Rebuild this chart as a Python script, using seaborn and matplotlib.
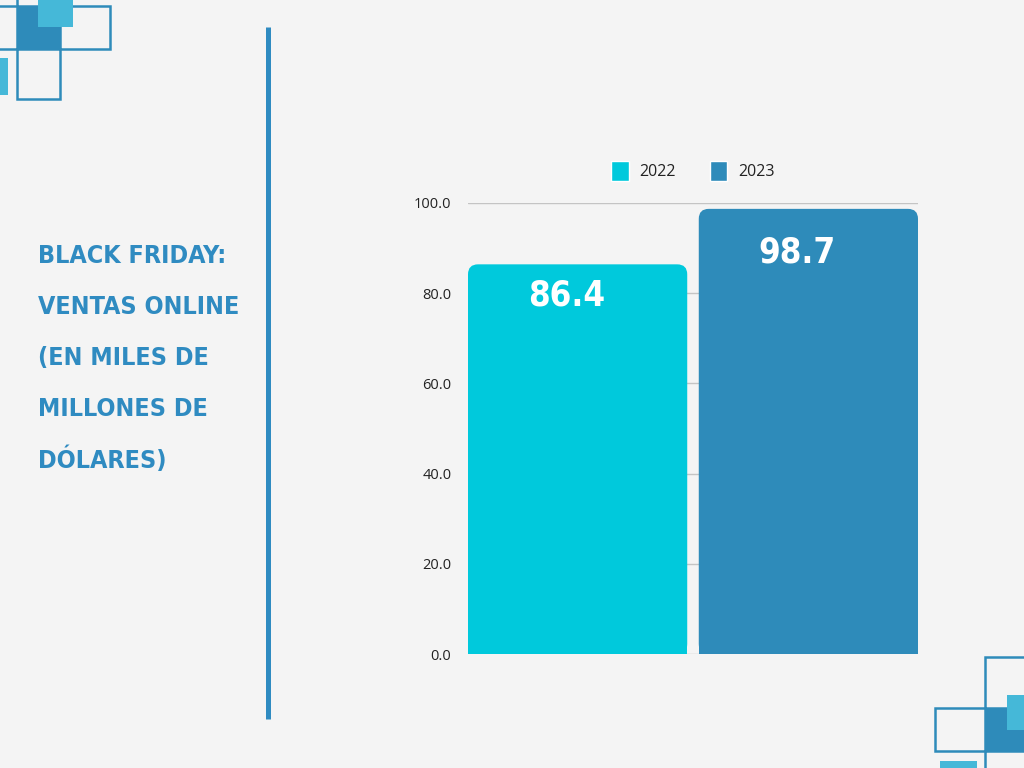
import matplotlib
matplotlib.use("Agg")
import matplotlib.pyplot as plt
from matplotlib.patches import Rectangle, FancyBboxPatch
from matplotlib.lines import Line2D
import pandas as pd
import seaborn as sns

# data
years = ["2022", "2023"]
sales = [86.4, 98.7]
category = ["Black Friday", "Black Friday"]
title_lines = ["BLACK FRIDAY:", "VENTAS ONLINE", "(EN MILES DE", "MILLONES DE", "DÓLARES)"]

BG = "#f4f4f4"
CYAN = "#00c9dc"
BLUE = "#2e8bba"
TITLE_BLUE = "#2f8bc1"
LIGHT = "#45b8d8"
W, H = 1024, 768

df = pd.DataFrame({"cat": category, "year": years, "sales": sales})

sns.set_theme(style="white")
plt.rcParams["font.family"] = ["Open Sans", "DejaVu Sans"]

fig = plt.figure(figsize=(W / 100, H / 100), dpi=100, facecolor=BG)


def fx(px):
    return px / W


def fy(py):
    return 1 - py / H


def box(x0, y0, x1, y1, filled=False, color=BLUE):
    # rectangle given in pixel coords (top-left origin)
    r = Rectangle((fx(x0), fy(y1)), fx(x1) - fx(x0), fy(y0) - fy(y1),
                  transform=fig.transFigure, clip_on=False,
                  facecolor=color if filled else "none",
                  edgecolor="none" if filled else BLUE, linewidth=1.8)
    fig.add_artist(r)


# corner decorations, top-left
box(17, 49, 60, 99)
box(60, 6, 110, 49)
box(17, -20, 60, 6)
box(-20, 6, 17, 49)
box(17, 6, 60, 49, filled=True, color=BLUE)
box(38, 0, 73, 27, filled=True, color=LIGHT)
box(0, 58, 8, 95, filled=True, color=LIGHT)

# corner decorations, bottom-right
box(985, 657, 1040, 708)
box(935, 708, 985, 751)
box(985, 751, 1040, 790)
box(985, 708, 1030, 751, filled=True, color=BLUE)
box(1007, 695, 1030, 730, filled=True, color=LIGHT)
box(940, 761, 977, 775, filled=True, color=LIGHT)

# vertical divider
fig.add_artist(Line2D([fx(268), fx(268)], [fy(27), fy(719)], transform=fig.transFigure,
                      color=TITLE_BLUE, linewidth=3.6, solid_capstyle="butt"))

# title
for i, line in enumerate(title_lines):
    fig.text(fx(38), fy(256 + i * 51), line, ha="left", va="center", fontsize=18,
             fontweight="bold", fontstretch="condensed", color=TITLE_BLUE,
             family="DejaVu Sans")

# chart
ax = fig.add_axes([fx(468), fy(654), fx(918) - fx(468), fy(203) - fy(654)])
ax.set_facecolor(BG)
sns.barplot(data=df, x="cat", y="sales", hue="year", palette=[CYAN, BLUE],
            saturation=1, gap=0.05, width=0.8, errorbar=None, ax=ax, zorder=3)

patches = [p for p in ax.patches if p.get_height() > 0]
x_left = min(p.get_x() for p in patches)
x_right = max(p.get_x() + p.get_width() for p in patches)
ax.set_xlim(x_left, x_right)
ax.set_ylim(0, 100)
ax.set_yticks([0, 20, 40, 60, 80, 100])
ax.set_yticklabels([f"{v:.1f}" for v in [0, 20, 40, 60, 80, 100]], fontsize=10.5, color="#222222")
ax.tick_params(axis="y", length=0, pad=12)
ax.set_xticks([])
ax.set_xlabel("")
ax.set_ylabel("")
ax.grid(axis="y", color="#c4c4c4", linewidth=1, zorder=0)
ax.set_axisbelow(True)
for s in ax.spines.values():
    s.set_visible(False)

# rounded top corners
xpx = (x_right - x_left) / 450
ypx = 100 / 451
r = 10
for p in patches:
    x, y, w, h = p.get_x(), p.get_y(), p.get_width(), p.get_height()
    rb = FancyBboxPatch((x, y), w, h, boxstyle=f"round,pad=0,rounding_size={r * xpx}",
                        mutation_aspect=ypx / xpx, facecolor=p.get_facecolor(),
                        edgecolor="none", zorder=3)
    ax.add_patch(rb)
    p.set_height(h - r * ypx)
    p.set_edgecolor("none")

# value labels inside bars
drops = [31, 44]
for p, v, d in zip(patches, sales, drops):
    ax.annotate(f"{v}", (p.get_x() + p.get_width() * 0.45, v), xytext=(0, -d * 0.72),
                textcoords="offset points", ha="center", va="center", color="white",
                fontsize=25, fontweight="bold", fontstretch="condensed", zorder=5,
                family="DejaVu Sans")

leg = ax.legend(loc="lower center", bbox_to_anchor=(0.5, 1.035), ncol=2, frameon=False,
                fontsize=11.5, handlelength=1.1, handleheight=1.5, columnspacing=2.1,
                handletextpad=0.7, borderaxespad=0)
for t in leg.get_texts():
    t.set_color("#222222")

fig.savefig("out.png", dpi=100, facecolor=BG)
